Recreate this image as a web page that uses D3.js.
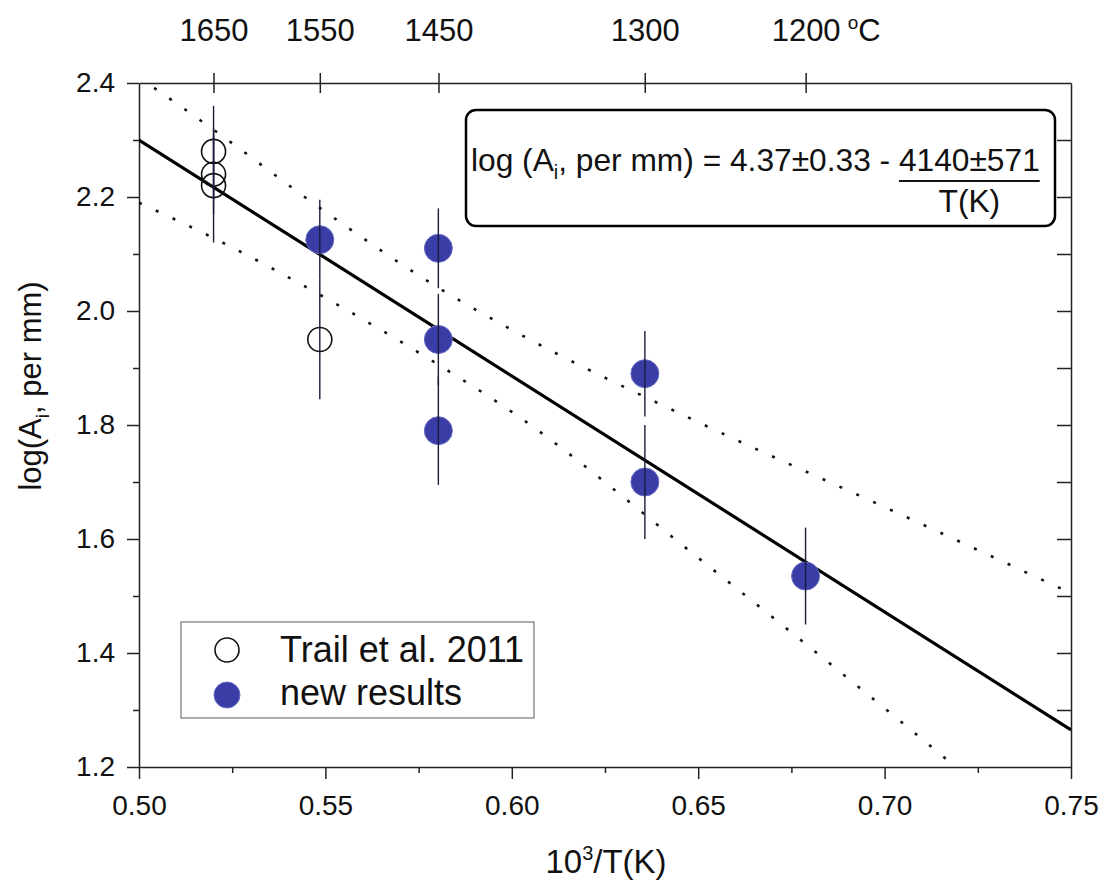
<!DOCTYPE html>
<html>
<head>
<meta charset="utf-8">
<script src="https://cdn.jsdelivr.net/npm/d3@7/dist/d3.min.js"></script>
<style>
body { margin: 0; background: #fff; }
svg { font-family: "Liberation Sans", Arial, sans-serif; }
</style>
</head>
<body>
<svg id="chart" width="1104" height="882"></svg>
<script>
const svg = d3.select("#chart");
const width = 1104;
const height = 882;

const margin = {
    "T": 83,
    "B": 115,
    "R": 33,
    "L": 139,
};

// ---- DATA ---- //

// Trail et al. 2011, open circles
const trailX = [0.520, 0.520, 0.520, 0.5485];
const trailY = [2.28, 2.24, 2.22, 1.95];
const trailErr = [0.08, 0.07, 0.10, 0.105];

// new results, filled circles
const newX = [0.5485, 0.5803, 0.5803, 0.5803, 0.6357, 0.6357, 0.6788];
const newY = [2.125, 2.11, 1.95, 1.79, 1.89, 1.70, 1.535];
const newErr = [0.07, 0.07, 0.08, 0.095, 0.075, 0.10, 0.085];

// fitted line
const fitX = [0.50, 0.75];
const fitY = [2.30, 1.265];

// dotted confidence band
const bandUpX = [0.50, 0.52, 0.55, 0.58, 0.60, 0.65, 0.70, 0.75];
const bandUpY = [2.41, 2.318, 2.174, 2.042, 1.967, 1.805, 1.656, 1.505];
const bandLoX = [0.50, 0.52, 0.55, 0.58, 0.60, 0.65, 0.70, 0.72, 0.75];
const bandLoY = [2.19, 2.128, 2.023, 1.907, 1.823, 1.567, 1.303, 1.195, 1.03];

// ticks
const xTicks = [0.50, 0.55, 0.60, 0.65, 0.70, 0.75];
const xMinor = [0.525, 0.575, 0.625, 0.675, 0.725];
const yTicks = [1.2, 1.4, 1.6, 1.8, 2.0, 2.2, 2.4];
const yMinor = [1.3, 1.5, 1.7, 1.9, 2.1, 2.3];
const yRight = [1.3, 1.4, 1.5, 1.6, 1.7, 1.8, 1.9, 2.0, 2.1, 2.2, 2.3];
const tempTicks = [1650, 1550, 1450, 1300, 1200];

const blue = "#3b3da6";

// ---- SCALES ---- //

const xScale = d3.scaleLinear()
    .domain([0.50, 0.75])
    .range([margin.L, width - margin.R]);
const yScale = d3.scaleLinear()
    .domain([1.2, 2.4])
    .range([height - margin.B, margin.T]);

const tempToX = t => 1000 / (t + 273.15);

svg.append("rect").attr("width", width).attr("height", height).attr("fill", "#fff");

svg.append("clipPath")
    .attr("id", "plot-clip")
    .append("rect")
        .attr("x", margin.L)
        .attr("y", margin.T)
        .attr("width", width - margin.L - margin.R)
        .attr("height", height - margin.T - margin.B);

// ---- AXES ---- //

function styleAxis(g, fs) {
    g.attr("font-family", null).attr("font-size", fs);
    g.selectAll(".domain").attr("stroke", "#222").attr("stroke-width", 1.5);
    g.selectAll(".tick line").attr("stroke", "#222").attr("stroke-width", 1.5);
    g.selectAll(".tick text").attr("fill", "#111");
}

const yb = height - margin.B;
const xr = width - margin.R;

svg.append("g")
    .attr("transform", `translate(0, ${yb})`)
    .call(d3.axisBottom(xScale).tickValues(xTicks).tickSize(12).tickSizeOuter(0)
        .tickPadding(16).tickFormat(d3.format(".2f")))
    .call(g => styleAxis(g, 28));
svg.append("g")
    .attr("transform", `translate(0, ${yb})`)
    .call(d3.axisBottom(xScale).tickValues(xMinor).tickSize(6).tickFormat(""))
    .call(g => styleAxis(g, 28))
    .call(g => g.select(".domain").remove());

svg.append("g")
    .attr("transform", `translate(${margin.L}, 0)`)
    .call(d3.axisLeft(yScale).tickValues(yTicks).tickSize(12).tickSizeOuter(0)
        .tickPadding(12).tickFormat(d3.format(".1f")))
    .call(g => styleAxis(g, 28));
svg.append("g")
    .attr("transform", `translate(${margin.L}, 0)`)
    .call(d3.axisLeft(yScale).tickValues(yMinor).tickSize(6).tickFormat(""))
    .call(g => styleAxis(g, 28))
    .call(g => g.select(".domain").remove());

// right side, inward ticks
svg.append("g")
    .attr("transform", `translate(${xr}, 0)`)
    .call(d3.axisLeft(yScale).tickValues(yRight).tickSize(14).tickSizeOuter(0).tickFormat(""))
    .call(g => styleAxis(g, 28));

// top, temperature in C
const topTicks = tempTicks.map(tempToX);
svg.append("g")
    .attr("transform", `translate(0, ${margin.T})`)
    .call(d3.axisTop(xScale).tickValues(topTicks).tickSize(10).tickSizeOuter(0)
        .tickPadding(32).tickFormat((d, i) => tempTicks[i]))
    .call(g => styleAxis(g, 31));
svg.append("g")
    .attr("transform", `translate(0, ${margin.T})`)
    .call(d3.axisBottom(xScale).tickValues(topTicks).tickSize(10).tickFormat(""))
    .call(g => styleAxis(g, 31))
    .call(g => g.select(".domain").remove());

// degree C after the last top label
const lastT = svg.append("text")
    .attr("x", xScale(topTicks[4]) + 42)
    .attr("y", 41)
    .attr("font-size", 31)
    .attr("fill", "#111");
lastT.append("tspan").attr("font-size", 19).attr("dy", -12).text("o");
lastT.append("tspan").attr("dy", 12).text("C");

// axis titles
const xt = svg.append("text")
    .attr("x", 606)
    .attr("y", 873)
    .attr("text-anchor", "middle")
    .attr("font-size", 33)
    .attr("fill", "#111");
xt.append("tspan").text("10");
xt.append("tspan").attr("font-size", 20).attr("dy", -13).text("3");
xt.append("tspan").attr("dy", 13).text("/T(K)");

const yt = svg.append("text")
    .attr("transform", "translate(41, 386) rotate(-90)")
    .attr("text-anchor", "middle")
    .attr("font-size", 31)
    .attr("fill", "#111");
yt.append("tspan").text("log(A");
yt.append("tspan").attr("font-size", 19).attr("dy", 8).text("i");
yt.append("tspan").attr("dy", -8).text(", per mm)");

// ---- BAND + FIT ---- //

const line = d3.line()
    .x(d => xScale(d[0]))
    .y(d => yScale(d[1]))
    .curve(d3.curveMonotoneX);

const plotArea = svg.append("g").attr("clip-path", "url(#plot-clip)");

[[bandUpX, bandUpY], [bandLoX, bandLoY]].forEach(([bx, by]) => {
    plotArea.append("path")
        .attr("d", line(bx.map((x, i) => [x, by[i]])))
        .attr("fill", "none")
        .attr("stroke", "#111")
        .attr("stroke-width", 2.6)
        .attr("stroke-dasharray", "3,15.5");
});

plotArea.append("path")
    .attr("d", d3.line().x(d => xScale(d[0])).y(d => yScale(d[1]))(fitX.map((x, i) => [x, fitY[i]])))
    .attr("fill", "none")
    .attr("stroke", "#000")
    .attr("stroke-width", 3.2);

// ---- POINTS ---- //

const trail = trailX.map((x, i) => ({x: x, y: trailY[i], e: trailErr[i]}));
const fresh = newX.map((x, i) => ({x: x, y: newY[i], e: newErr[i]}));

plotArea.selectAll(".new-point")
    .data(fresh)
    .enter()
    .append("circle")
        .attr("class", "new-point")
        .attr("cx", d => xScale(d.x))
        .attr("cy", d => yScale(d.y))
        .attr("r", 14)
        .attr("fill", blue)
        .attr("stroke", "#6a6cc4")
        .attr("stroke-width", 1);

plotArea.selectAll(".trail-point")
    .data(trail)
    .enter()
    .append("circle")
        .attr("class", "trail-point")
        .attr("cx", d => xScale(d.x))
        .attr("cy", d => yScale(d.y))
        .attr("r", 12)
        .attr("fill", "none")
        .attr("stroke", "#111")
        .attr("stroke-width", 1.6);

plotArea.selectAll(".err")
    .data(trail.concat(fresh))
    .enter()
    .append("line")
        .attr("class", "err")
        .attr("x1", d => xScale(d.x))
        .attr("x2", d => xScale(d.x))
        .attr("y1", d => yScale(d.y + d.e))
        .attr("y2", d => yScale(d.y - d.e))
        .attr("stroke", "#1a1a3a")
        .attr("stroke-width", 1.4);

// ---- EQUATION BOX ---- //

svg.append("rect")
    .attr("x", 466).attr("y", 110)
    .attr("width", 589).attr("height", 116)
    .attr("rx", 10)
    .attr("fill", "#fff")
    .attr("stroke", "#000")
    .attr("stroke-width", 2.5);

const eq = svg.append("text")
    .attr("x", 471)
    .attr("y", 171)
    .attr("fill", "#111");
eq.append("tspan").attr("class", "eq-main").text("log (A");
eq.append("tspan").attr("class", "eq-sub").attr("dy", 8).text("i");
eq.append("tspan").attr("class", "eq-main").attr("dy", -8).text(", per mm) = 4.37±0.33 - ");
const num = eq.append("tspan").attr("class", "eq-main").text("4140±571");

function setEq(fs) {
    eq.selectAll(".eq-main").attr("font-size", fs);
    eq.selectAll(".eq-sub").attr("font-size", fs * 0.62);
}
setEq(30);
const fsEq = 30 * 569 / eq.node().getComputedTextLength();
setEq(fsEq);
const numLen = num.node().getComputedTextLength();
const numEnd = 471 + eq.node().getComputedTextLength();
const numStart = numEnd - numLen;

svg.append("line")
    .attr("x1", numStart).attr("x2", numEnd)
    .attr("y1", 181).attr("y2", 181)
    .attr("stroke", "#111").attr("stroke-width", 2);
svg.append("text")
    .attr("x", (numStart + numEnd) / 2)
    .attr("y", 212)
    .attr("text-anchor", "middle")
    .attr("font-size", fsEq)
    .attr("fill", "#111")
    .text("T(K)");

// ---- LEGEND ---- //

svg.append("rect")
    .attr("x", 181).attr("y", 622)
    .attr("width", 353).attr("height", 96)
    .attr("fill", "#fff")
    .attr("stroke", "#777")
    .attr("stroke-width", 1.2);

svg.append("circle")
    .attr("cx", 227).attr("cy", 650).attr("r", 12)
    .attr("fill", "none").attr("stroke", "#111").attr("stroke-width", 1.6);
svg.append("circle")
    .attr("cx", 227).attr("cy", 695).attr("r", 13)
    .attr("fill", blue).attr("stroke", "#6a6cc4").attr("stroke-width", 1);

svg.append("text")
    .attr("x", 280).attr("y", 662)
    .attr("font-size", 36).attr("fill", "#111")
    .text("Trail et al. 2011");
svg.append("text")
    .attr("x", 280).attr("y", 705)
    .attr("font-size", 36).attr("fill", "#111")
    .text("new results");
</script>
</body>
</html>
